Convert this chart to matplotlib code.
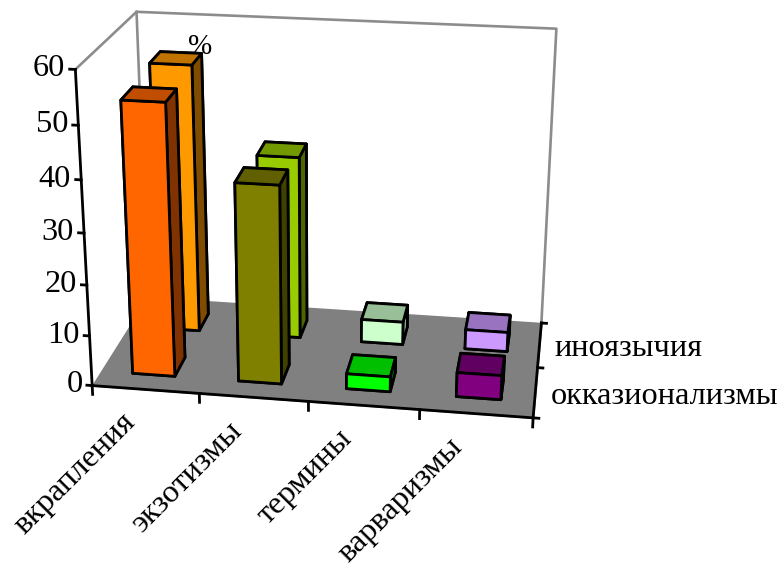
#! /usr/bin/env python

import matplotlib
matplotlib.use("Agg")
import matplotlib.pyplot as plt
from mpl_toolkits.mplot3d import proj3d
from mpl_toolkits.mplot3d.art3d import Poly3DCollection

categories = ["вкрапления", "экзотизмы", "термины", "варваризмы"]
series_names = ["окказионализмы", "иноязычия"]
front_values = [53, 38.8, 3, 4.8]
back_values = [54, 37, 4.7, 4]
z_ticks = [0, 10, 20, 30, 40, 50, 60]

# colours per bar: front, top, side
front_colors = [("#FF6600", "#C04D00", "#803300"),
                ("#808000", "#606000", "#404000"),
                ("#00FF00", "#00BF00", "#008000"),
                ("#800080", "#600060", "#400040")]
back_colors = [("#FF9900", "#C07300", "#804C00"),
               ("#99CC00", "#739900", "#4D6600"),
               ("#CCFFCC", "#99BF99", "#99BF99"),
               ("#CC99FF", "#9973BF", "#664D80")]

W, H = 779, 568
SCALE = 3075.21  # pixels per projected unit
BAR_W = 0.4
BAR_D = 0.4
FONT = 23.3

plt.rcParams["font.family"] = ["Liberation Serif", "DejaVu Serif"]

fig = plt.figure(figsize=(W / 100, H / 100), dpi=100)
ax = fig.add_subplot(projection="3d", computed_zorder=False)
ax.set_xlim(0, 4, view_margin=0)
ax.set_ylim(0, 2, view_margin=0)
ax.set_zlim(0, 60, view_margin=0)
ax.set_xticks([])
ax.set_yticks([])
ax.set_zticks([])
ax.view_init(elev=20.701, azim=-81.164, roll=-0.074)
ax.set_proj_type("persp", focal_length=0.549)
ax.set_box_aspect((1, 0.504, 0.748))
ax.set_axis_off()

# place the square axes so projected units land where they should
side = SCALE * (ax.viewLim.x1 - ax.viewLim.x0)
left = 326.0 + SCALE * ax.viewLim.x0
bottom = 362.2 + SCALE * ax.viewLim.y0
ax.set_position([left / W, bottom / H, side / W, side / H])


def label(x, y, z, text, **kwargs):
    # Text3D overrides rotation, so put plain text at the projected point
    xp, yp, _ = proj3d.proj_transform(x, y, z, ax.get_proj())
    ax.text2D(xp, yp, text, transform=ax.transData, fontsize=FONT, zorder=5,
              clip_on=False, **kwargs)


floor = Poly3DCollection([[(0, 0, 0), (4, 0, 0), (4, 2, 0), (0, 2, 0)]],
                         facecolor="#808080", edgecolor="#808080", zorder=1)
ax.add_collection3d(floor)

# walls
wall = dict(color="#8C8C8C", lw=1.9, zorder=1.5)
ax.plot([0, 0, 4, 4], [0, 2, 2, 2], [60, 60, 60, 0], **wall)
ax.plot([0, 0], [2, 2], [60, 0], **wall)


def draw_bars(values, colors, y_center, zorder):
    for i, (value, (front, top, side_c)) in enumerate(zip(values, colors)):
        ax.bar3d(i + 0.5 - BAR_W / 2, y_center - BAR_D / 2, 0, BAR_W, BAR_D, value,
                 color=[front, top, front, front, side_c, side_c],
                 edgecolor="black", linewidth=2.0, shade=False, zorder=zorder)


draw_bars(back_values, back_colors, 1.5, 2)
draw_bars(front_values, front_colors, 0.5, 3)

# axis lines
axis = dict(color="black", lw=2.0, zorder=4)
ax.plot([0, 0], [0, 0], [60, 0], **axis)
ax.plot([0, 4, 4], [0, 0, 2], [0, 0, 0], **axis)

for z in z_ticks:
    ax.plot([-0.05, 0], [0, 0], [z, z], **axis)
    label(-0.09, 0, z, str(z), ha="right", va="center")

for i in range(5):
    ax.plot([i, i], [0, 0], [0, -1.8], **axis)

for i, name in enumerate(categories):
    label(i + 0.26, 0, -4.1, name, rotation=45, rotation_mode="anchor",
          ha="right", va="top")

for j in range(3):
    ax.plot([4, 4.05], [j, j], [0, 0], **axis)

for j, name in enumerate(series_names):
    label(4.14, j + 0.5, -0.6, name, ha="left", va="center")

fig.text(200 / W, 1 - 47 / H, "%", fontsize=21, ha="center", va="center")

plt.savefig("out.png", dpi=100)
